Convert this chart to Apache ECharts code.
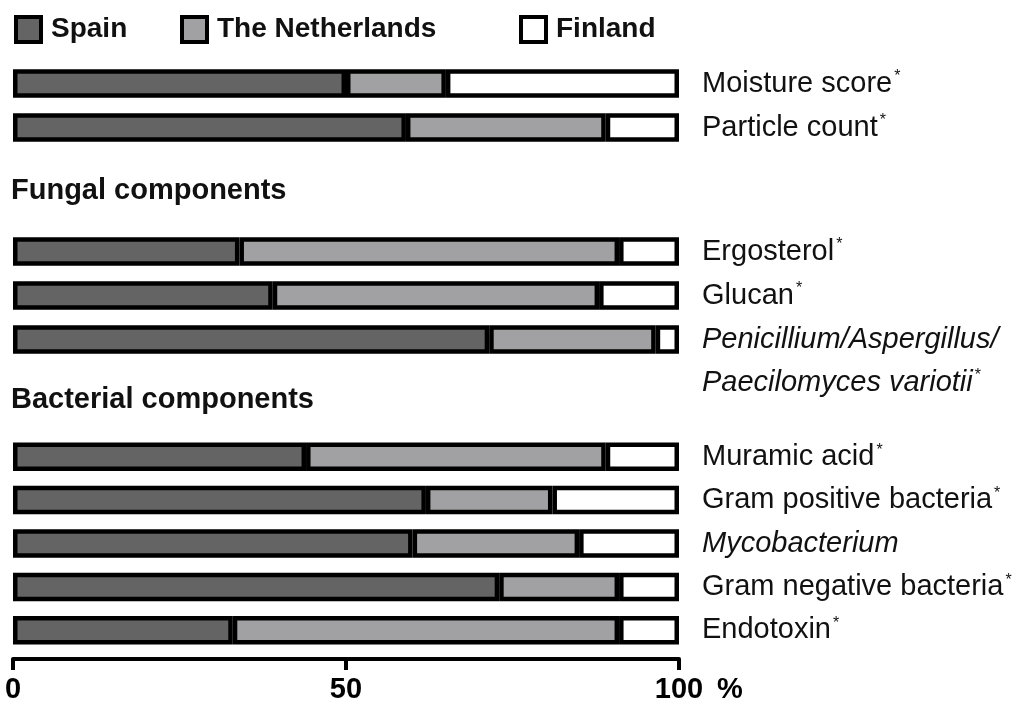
<!DOCTYPE html>
<html>
<head>
<meta charset="utf-8">
<style>
  html, body { margin: 0; padding: 0; background: #fff; }
  #chart { width: 1016px; height: 704px; }
</style>
<script src="https://cdn.jsdelivr.net/npm/echarts@6/dist/echarts.min.js"></script>
</head>
<body>
<div id="chart"></div>
<script>
// ---- data ----
const countries = ['Spain', 'The Netherlands', 'Finland'];
const groupHeadings = ['Fungal components', 'Bacterial components'];

const generalCats = ['Moisture score*', 'Particle count*'];
const generalSpain = [50, 59];
const generalNetherlands = [15, 30];
const generalFinland = [35, 11];

const fungalCats = ['Ergosterol*', 'Glucan*', 'Penicillium/Aspergillus/\nPaecilomyces variotii*'];
const fungalSpain = [34, 39, 71.5];
const fungalNetherlands = [57, 49, 25];
const fungalFinland = [9, 12, 3.5];

const bacterialCats = ['Muramic acid*', 'Gram positive bacteria*', 'Mycobacterium', 'Gram negative bacteria*', 'Endotoxin*'];
const bacterialSpain = [44, 62, 60, 73, 33];
const bacterialNetherlands = [45, 19, 25, 18, 58];
const bacterialFinland = [11, 19, 15, 9, 9];

const italicCats = ['Penicillium/Aspergillus/\nPaecilomyces variotii*', 'Mycobacterium'];
const xTicks = [0, 50, 100];

// ---- styling ----
const FONT = '"Liberation Sans", Arial, sans-serif';
const colors = ['#646464', '#a1a1a4', '#ffffff'];
const LABEL_SIZE = 29;

function fmtLabel(v) {
  const italic = italicCats.indexOf(v) >= 0;
  const lines = v.split('\n');
  const out = lines.map(function (ln) {
    let star = false;
    if (ln.endsWith('*')) { star = true; ln = ln.slice(0, -1); }
    return '{' + (italic ? 'it' : 'n') + '|' + ln + '}' + (star ? '{sup|*}' : '');
  });
  if (lines.length > 1) out.unshift('{n| }');
  return out.join('\n');
}

const richStyles = {
  n: { fontFamily: FONT, fontSize: LABEL_SIZE, color: '#111', lineHeight: 43 },
  it: { fontFamily: FONT, fontSize: LABEL_SIZE, color: '#111', fontStyle: 'italic', lineHeight: 43 },
  sup: { fontFamily: FONT, fontSize: 16, color: '#111', lineHeight: 16, verticalAlign: 'top', padding: [7, 0, 0, 2] }
};

const groups = [
  { cats: generalCats, vals: [generalSpain, generalNetherlands, generalFinland], top: 61.5 },
  { cats: fungalCats, vals: [fungalSpain, fungalNetherlands, fungalFinland], top: 229.5 },
  { cats: bacterialCats, vals: [bacterialSpain, bacterialNetherlands, bacterialFinland], top: 435 }
];
const ROW = 44;

const grids = [], xAxes = [], yAxes = [], series = [];
groups.forEach(function (g, gi) {
  grids.push({ left: 13, right: 337, top: g.top, height: g.cats.length * ROW, containLabel: false });
  const last = gi === groups.length - 1;
  xAxes.push({
    gridIndex: gi, type: 'value', min: 0, max: 100, interval: 50,
    show: last, offset: last ? 7 : 0,
    splitLine: { show: false },
    axisLine: { show: true, lineStyle: { color: '#000', width: 4 } },
    axisTick: { show: true, length: 11, lineStyle: { color: '#000', width: 4 } },
    axisLabel: {
      show: true, margin: 16, color: '#000', fontFamily: FONT, fontSize: LABEL_SIZE, fontWeight: 'bold',
      formatter: function (v) { return xTicks.indexOf(v) >= 0 ? String(v) : ''; }
    },
    name: last ? '%' : '', nameLocation: 'end', nameGap: 38,
    nameTextStyle: { color: '#000', fontFamily: FONT, fontSize: LABEL_SIZE, fontWeight: 'bold', verticalAlign: 'top', padding: [16, 0, 0, 0] }
  });
  yAxes.push({
    gridIndex: gi, type: 'category', data: g.cats, inverse: true, position: 'right',
    axisLine: { show: false }, axisTick: { show: false }, splitLine: { show: false },
    axisLabel: { interval: 0, margin: 23, align: 'left', lineHeight: 43, fontFamily: FONT, fontSize: LABEL_SIZE, color: '#111', formatter: fmtLabel, rich: richStyles }
  });
  countries.forEach(function (c, ci) {
    series.push({
      name: c, type: 'bar', stack: 'g' + gi, xAxisIndex: gi, yAxisIndex: gi,
      data: g.vals[ci], barWidth: 28.5, silent: true,
      itemStyle: { color: colors[ci], borderColor: '#000', borderWidth: 4.5 },
      animation: false
    });
  });
});

const legendBase = {
  top: 15, padding: 0, itemWidth: 25, itemHeight: 25, icon: 'rect', selectedMode: false,
  itemStyle: { borderColor: '#000', borderWidth: 4 },
  textStyle: { fontFamily: FONT, fontSize: 28, fontWeight: 'bold', color: '#111', padding: [0, 0, 0, 5] }
};
const legendLefts = [14, 180, 519];

const option = {
  backgroundColor: '#fff',
  animation: false,
  title: [
    { text: groupHeadings[0], left: 11, top: 176, padding: 0, textStyle: { fontFamily: FONT, fontSize: LABEL_SIZE, fontWeight: 'bold', color: '#111' } },
    { text: groupHeadings[1], left: 11, top: 385, padding: 0, textStyle: { fontFamily: FONT, fontSize: LABEL_SIZE, fontWeight: 'bold', color: '#111' } }
  ],
  legend: countries.map(function (c, i) {
    return Object.assign({}, legendBase, { left: legendLefts[i], data: [c] });
  }),
  grid: grids,
  xAxis: xAxes,
  yAxis: yAxes,
  series: series
};

const chart = echarts.init(document.getElementById('chart'), null, { renderer: 'canvas' });
chart.setOption(option);
</script>
</body>
</html>
